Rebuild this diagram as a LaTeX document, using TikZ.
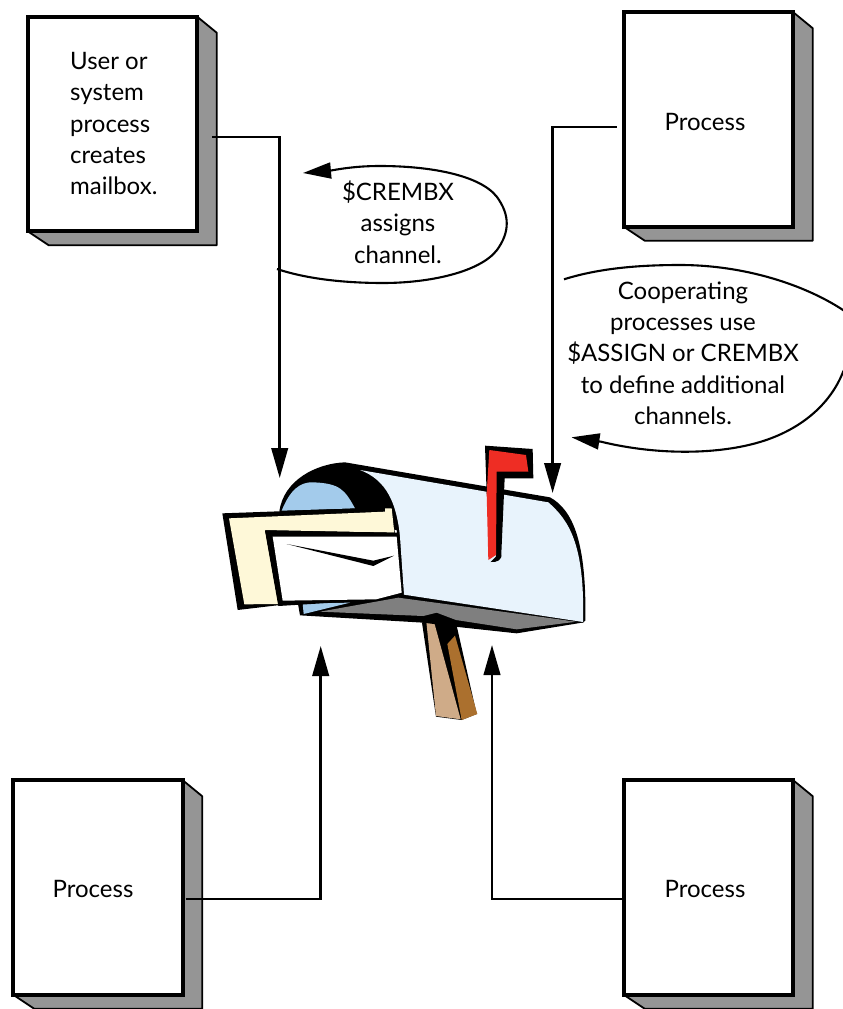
\documentclass[tikz,border=0pt]{standalone}
\usepackage{fontspec}
\setmainfont{Lato}
\usetikzlibrary{arrows.meta,calc}
\definecolor{shade}{HTML}{959595}
\definecolor{bodyblue}{HTML}{E8F3FC}
\definecolor{innerblue}{HTML}{A3CBEB}
\definecolor{letter}{HTML}{FEF8D8}
\definecolor{floorgrey}{HTML}{7F7F7F}
\definecolor{flagred}{HTML}{EE2D24}
\definecolor{posttan}{HTML}{CFAB88}
\definecolor{postbrown}{HTML}{AB702E}
\tikzset{
  procbox/.style={draw=black,fill=white,line width=3.8pt,minimum width=169.5pt,minimum height=214.5pt,outer sep=0pt,inner sep=0pt},
  lbl/.style={font=\fontsize{24}{31.3}\selectfont,inner sep=0pt,align=center,text=black},
  flow/.style={draw=black,line width=2.6pt,-{Triangle[length=30pt,width=16.5pt]}},
  callout/.style={draw=black,line width=2.1pt,-{Triangle[length=28pt,width=16pt]}},
  shadowface/.style={fill=shade,draw=black,line width=1.8pt,line join=round},
}
\newcommand{\boxshadow}[1]{%
  \path[shadowface] (#1.north east) -- ++(19.5,16) -- ($(#1.south east)+(19.5,14)$) -- ($(#1.south west)+(21,14)$) -- (#1.south west) -- cycle;
}
\begin{document}
\begin{tikzpicture}[x=1pt,y=-1pt]
\useasboundingbox (0,0) rectangle (843,1009);
\coordinate (tipA) at (279.7,478);
\coordinate (tipB) at (552.6,493);
\coordinate (tipC) at (320.7,646);
\coordinate (tipD) at (492,645);
% boxes
\path (112.5,124) node[procbox,name=boxA] {};
\path (708.5,119.5) node[procbox,name=boxB] {};
\path (98,887.5) node[procbox,name=boxC] {};
\path (708.5,887.5) node[procbox,name=boxD] {};
\boxshadow{boxA}\boxshadow{boxB}\boxshadow{boxC}\boxshadow{boxD}
\node[procbox] at (boxA) {};
\node[procbox] at (boxB) {};
\node[procbox] at (boxC) {};
\node[procbox] at (boxD) {};
% labels
\node[lbl,align=left,anchor=west] (lA) at (70,123.5) {User or\\system\\process\\creates\\mailbox.};
\node[lbl] (lB) at (705,122) {Process};
\node[lbl] (lC) at (93,889) {Process};
\node[lbl] (lD) at (705,889) {Process};
\node[lbl] (lE) at (398,222) {\$CREMBX\\assigns\\channel.};
\node[lbl] (lF) at (683,353) {Coopera\kern0pt ting\\processes use\\\$ASSIGN or CREMBX\\to define additional\\channels.};
% mailbox
\begin{scope}[shift={(210,430)},x=0.33333pt,y=-0.33333pt]
  % post
  \fill[black] (636,578) -- (680,548) -- (735,565) -- (800,852) -- (755,870) -- (678,860) -- cycle;
  \fill[posttan] (649,575) -- (670,568) -- (752,868) -- (678,858) -- cycle;
  \fill[postbrown] (712,642) -- (735,617) -- (802,852) -- (755,870) -- cycle;
  % floor
  \fill[black] (262,510) -- (270,556) -- (640,578) -- (735,590) -- (920,610) -- (1122,577) -- (580,488) -- cycle;
  \fill[floorgrey] (330,545) -- (565,503) -- (1100,575) -- (920,598) -- (738,570) -- (680,548) -- (640,558) -- cycle;
  \fill[innerblue] (278,520) -- (281,552) -- (420,518) -- cycle;
  % body
  \fill[black] (208,245) .. controls (220,150) and (320,100) .. (405,97) -- (1020,202) .. controls (1090,240) and (1130,340) .. (1126,572) -- (1118,578) -- (580,495) -- (560,300) -- cycle;
  \fill[bodyblue] (450,120) -- (1015,217) .. controls (1075,270) and (1125,340) .. (1119,576) -- (582,494) -- (570,320) .. controls (560,220) and (530,150) .. (450,120) -- cycle;
  \fill[innerblue] (215,242) .. controls (240,180) and (270,155) .. (310,157) .. controls (390,160) and (405,180) .. (435,235) -- cycle;
  % letter
  \fill[black] (37,250) -- (545,232) -- (555,310) -- (210,525) -- (83,540) -- cycle;
  \fill[letter] (57,265) -- (525,245) -- (525,235) -- (545,235) -- (553,308) -- (165,300) -- (205,522) -- (103,523) -- cycle;
  % envelope
  \fill[black] (165,302) -- (565,308) -- (580,490) -- (500,510) -- (205,528) -- cycle;
  \fill[white] (188,320) -- (560,320) -- (575,488) -- (498,508) -- (218,512) -- cycle;
  \fill[black] (230,342) -- (490,392) -- (552,377) -- (490,408) -- cycle;
  % flag
  \fill[black] (825,47) -- (968,57) -- (970,145) -- (884,145) -- (874,370) .. controls (878,390) and (860,398) .. (842,396) -- (858,380) -- (830,190) -- cycle;
  \fill[flagred] (838,60) -- (948,75) -- (955,125) -- (860,125) -- (858,375) -- (835,390) -- (830,190) -- cycle;
\end{scope}
% connectors
\draw[flow] ([shift={(15,13)}]boxA.east) -| (tipA);
\draw[flow] ([shift={(-7,7.5)}]boxB.west) -| (tipB);
\draw[flow] ([shift={(3,11.5)}]boxC.east) -| (tipC);
\draw[flow] ([yshift=-11.5pt]boxD.west) -| (tipD);
% callouts
\coordinate (cA) at (303,173);
\coordinate (cB) at (571.5,437.3);
\draw[callout] (277,269) .. controls (310,280) and (350,283) .. (383,283) .. controls (430,283) and (480,272) .. (497,250) .. controls (510,232) and (510,215) .. (497,197) .. controls (480,175) and (430,166) .. (380,166) .. controls (360,166) and (345,168) .. (331,170.5) -- (cA);
\draw[callout] (564,279.3) .. controls (600,268) and (640,265) .. (680,265) .. controls (745,265) and (805,285) .. (843,310) .. controls (862,325) and (858,345) .. (843,372) .. controls (830,405) and (800,430) .. (760,442) .. controls (720,454) and (660,456) .. (601,441.7) -- (cB);
\end{tikzpicture}
\end{document}
